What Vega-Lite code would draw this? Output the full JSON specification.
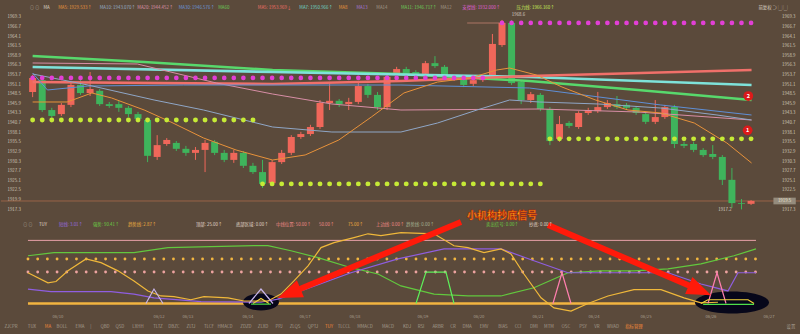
{
"$schema":"https://vega.github.io/schema/vega-lite/v6.json",
"background":"#5b4a3b",
"padding":0,
"spacing":0,
"bounds":"flush",
"config":{"view":{"stroke":null},"font":"Noto Sans CJK SC","axis":{"labelFont":"Noto Sans CJK SC"}},
"datasets":{
"candles":[
{"i":1,"o":1949.0,"h":1953.6,"l":1947.6,"c":1952.8,"res":1952.8,"sup":1941.4},
{"i":2,"o":1952.2,"h":1952.8,"l":1943.6,"c":1944.1,"res":1952.8,"sup":1941.4},
{"i":3,"o":1944.1,"h":1944.7,"l":1942.0,"c":1942.5,"res":1952.8,"sup":1941.4},
{"i":4,"o":1943.0,"h":1946.0,"l":1942.5,"c":1945.5,"res":1952.8,"sup":1941.4},
{"i":5,"o":1945.5,"h":1951.7,"l":1944.9,"c":1950.9,"res":1952.8,"sup":1941.4},
{"i":6,"o":1950.9,"h":1952.2,"l":1948.2,"c":1948.7,"res":1952.8,"sup":1941.4},
{"i":7,"o":1948.7,"h":1954.4,"l":1947.9,"c":1949.8,"res":1952.8,"sup":1941.4},
{"i":8,"o":1949.3,"h":1949.8,"l":1945.2,"c":1945.7,"res":1952.8,"sup":1941.4},
{"i":9,"o":1945.7,"h":1946.3,"l":1944.7,"c":1945.2,"res":1952.8,"sup":1941.4},
{"i":10,"o":1945.7,"h":1946.6,"l":1943.6,"c":1944.7,"res":1952.8,"sup":1941.4},
{"i":11,"o":1944.7,"h":1945.2,"l":1942.2,"c":1943.0,"res":1952.8,"sup":1941.4},
{"i":12,"o":1943.0,"h":1943.6,"l":1941.1,"c":1941.7,"res":1952.8,"sup":1941.4},
{"i":13,"o":1941.4,"h":1942.0,"l":1930.0,"c":1931.7,"res":1952.8,"sup":1941.4},
{"i":14,"o":1931.4,"h":1937.3,"l":1930.6,"c":1934.6,"res":1952.8,"sup":1941.4},
{"i":15,"o":1934.9,"h":1936.5,"l":1934.4,"c":1936.0,"res":1952.8,"sup":1941.4},
{"i":16,"o":1935.2,"h":1935.7,"l":1933.0,"c":1933.6,"res":1952.8,"sup":1941.4},
{"i":17,"o":1933.6,"h":1934.4,"l":1931.7,"c":1932.5,"res":1952.8,"sup":1941.4},
{"i":18,"o":1932.5,"h":1934.1,"l":1930.6,"c":1933.3,"res":1952.8,"sup":1941.4},
{"i":19,"o":1933.3,"h":1936.0,"l":1927.3,"c":1935.2,"res":1952.8,"sup":1941.4},
{"i":20,"o":1935.5,"h":1936.0,"l":1931.9,"c":1932.5,"res":1952.8,"sup":1941.4},
{"i":21,"o":1932.5,"h":1933.3,"l":1930.0,"c":1930.6,"res":1952.8,"sup":1941.4},
{"i":22,"o":1930.6,"h":1933.3,"l":1929.8,"c":1932.5,"res":1952.8,"sup":1941.4},
{"i":23,"o":1932.5,"h":1933.0,"l":1928.4,"c":1929.0,"res":1952.8,"sup":1941.4},
{"i":24,"o":1929.0,"h":1929.8,"l":1926.8,"c":1927.3,"res":1952.8,"sup":1941.4},
{"i":25,"o":1927.3,"h":1930.6,"l":1923.0,"c":1924.1,"res":1952.8,"sup":1924.1},
{"i":26,"o":1924.3,"h":1930.6,"l":1923.5,"c":1930.0,"res":1952.8,"sup":1924.1},
{"i":27,"o":1930.0,"h":1933.3,"l":1929.5,"c":1932.5,"res":1952.8,"sup":1924.1},
{"i":28,"o":1932.5,"h":1937.3,"l":1931.9,"c":1936.8,"res":1952.8,"sup":1924.1},
{"i":29,"o":1936.8,"h":1938.2,"l":1936.3,"c":1937.6,"res":1952.8,"sup":1924.1},
{"i":30,"o":1937.6,"h":1940.1,"l":1937.1,"c":1939.5,"res":1952.8,"sup":1924.1},
{"i":31,"o":1939.5,"h":1946.8,"l":1939.0,"c":1946.0,"res":1952.8,"sup":1924.1},
{"i":32,"o":1946.0,"h":1951.4,"l":1944.1,"c":1946.6,"res":1952.8,"sup":1924.1},
{"i":33,"o":1946.6,"h":1947.1,"l":1944.9,"c":1945.7,"res":1952.8,"sup":1924.1},
{"i":34,"o":1945.7,"h":1947.4,"l":1944.1,"c":1946.3,"res":1952.8,"sup":1924.1},
{"i":35,"o":1946.3,"h":1951.7,"l":1945.7,"c":1950.6,"res":1952.8,"sup":1924.1},
{"i":36,"o":1950.6,"h":1951.2,"l":1947.4,"c":1948.2,"res":1952.8,"sup":1924.1},
{"i":37,"o":1948.2,"h":1949.0,"l":1944.1,"c":1944.9,"res":1952.8,"sup":1924.1},
{"i":38,"o":1944.9,"h":1953.6,"l":1944.1,"c":1953.1,"res":1952.8,"sup":1924.1},
{"i":39,"o":1954.1,"h":1955.8,"l":1953.6,"c":1955.2,"res":1952.8,"sup":1924.1},
{"i":40,"o":1955.2,"h":1955.8,"l":1953.6,"c":1954.1,"res":1952.8,"sup":1924.1},
{"i":41,"o":1954.4,"h":1954.9,"l":1953.3,"c":1953.9,"res":1952.8,"sup":1924.1},
{"i":42,"o":1953.9,"h":1957.4,"l":1953.3,"c":1956.8,"res":1952.8,"sup":1924.1},
{"i":43,"o":1956.8,"h":1958.7,"l":1955.5,"c":1956.0,"res":1952.8,"sup":1924.1},
{"i":44,"o":1955.8,"h":1956.3,"l":1952.8,"c":1953.6,"res":1952.8,"sup":1924.1},
{"i":45,"o":1952.5,"h":1953.6,"l":1952.0,"c":1953.1,"res":1952.8,"sup":1924.1},
{"i":46,"o":1952.5,"h":1953.1,"l":1950.3,"c":1950.9,"res":1952.8,"sup":1924.1},
{"i":47,"o":1951.2,"h":1952.8,"l":1950.6,"c":1952.2,"res":1952.8,"sup":1924.1},
{"i":48,"o":1952.2,"h":1953.6,"l":1951.7,"c":1953.1,"res":1952.8,"sup":1924.1},
{"i":49,"o":1953.1,"h":1964.7,"l":1952.5,"c":1962.0,"res":null,"sup":1924.1},
{"i":50,"o":1961.7,"h":1968.5,"l":1961.2,"c":1967.7,"res":1967.7,"sup":1924.1},
{"i":51,"o":1967.7,"h":1968.5,"l":1950.9,"c":1951.4,"res":1967.7,"sup":1924.1},
{"i":52,"o":1951.7,"h":1952.2,"l":1945.7,"c":1946.8,"res":1967.7,"sup":1924.1},
{"i":53,"o":1946.8,"h":1949.0,"l":1946.0,"c":1948.4,"res":1967.7,"sup":1924.1},
{"i":54,"o":1948.2,"h":1948.7,"l":1943.8,"c":1944.4,"res":1967.7,"sup":1924.1},
{"i":55,"o":1944.4,"h":1944.9,"l":1934.6,"c":1935.7,"res":1967.7,"sup":1936.3},
{"i":56,"o":1936.3,"h":1942.5,"l":1935.5,"c":1940.3,"res":1967.7,"sup":1936.3},
{"i":57,"o":1940.6,"h":1941.1,"l":1939.2,"c":1939.8,"res":1967.7,"sup":1936.3},
{"i":58,"o":1939.5,"h":1943.8,"l":1939.0,"c":1943.3,"res":1967.7,"sup":1936.3},
{"i":59,"o":1943.3,"h":1944.7,"l":1942.8,"c":1944.1,"res":1967.7,"sup":1936.3},
{"i":60,"o":1943.8,"h":1949.0,"l":1943.3,"c":1944.9,"res":1967.7,"sup":1936.3},
{"i":61,"o":1944.9,"h":1946.8,"l":1944.4,"c":1946.0,"res":1967.7,"sup":1936.3},
{"i":62,"o":1945.7,"h":1947.9,"l":1944.4,"c":1944.9,"res":1967.7,"sup":1936.3},
{"i":63,"o":1945.5,"h":1946.0,"l":1944.1,"c":1944.7,"res":1967.7,"sup":1936.3},
{"i":64,"o":1944.7,"h":1945.2,"l":1942.8,"c":1943.3,"res":1967.7,"sup":1936.3},
{"i":65,"o":1943.0,"h":1943.6,"l":1940.3,"c":1940.9,"res":1967.7,"sup":1936.3},
{"i":66,"o":1940.9,"h":1946.8,"l":1940.3,"c":1942.2,"res":1967.7,"sup":1936.3},
{"i":67,"o":1942.2,"h":1945.5,"l":1941.7,"c":1944.9,"res":1967.7,"sup":1936.3},
{"i":68,"o":1944.9,"h":1945.5,"l":1933.8,"c":1934.9,"res":1967.7,"sup":1936.3},
{"i":69,"o":1934.9,"h":1935.5,"l":1933.8,"c":1934.4,"res":1967.7,"sup":1936.3},
{"i":70,"o":1934.9,"h":1935.5,"l":1932.7,"c":1933.3,"res":1967.7,"sup":1936.3},
{"i":71,"o":1933.3,"h":1933.8,"l":1931.4,"c":1931.9,"res":1967.7,"sup":1936.3},
{"i":72,"o":1932.2,"h":1934.6,"l":1930.8,"c":1931.4,"res":1967.7,"sup":1936.3},
{"i":73,"o":1931.4,"h":1931.9,"l":1923.8,"c":1925.2,"res":1967.7,"sup":1936.3},
{"i":74,"o":1925.2,"h":1928.4,"l":1917.6,"c":1918.9,"res":1967.7,"sup":1936.3},
{"i":75,"o":1918.9,"h":1920.0,"l":1917.2,"c":1918.7,"res":1967.7,"sup":1936.3},
{"i":76,"o":1918.7,"h":1919.7,"l":1918.4,"c":1919.5,"res":1967.7,"sup":1936.3}
],
"ma":[
{"m":"MA60","i":1,"v":1958.74},{"m":"MA60","i":12.65,"v":1957.11},{"m":"MA60","i":26.05,"v":1954.94},{"m":"MA60","i":39.45,"v":1953.86},{"m":"MA60","i":52.86,"v":1951.97},{"m":"MA60","i":64.2,"v":1949.53},{"m":"MA60","i":76.05,"v":1946.82},
{"m":"MA120","i":1,"v":1955.76},{"m":"MA120","i":26.05,"v":1954.4},{"m":"MA120","i":39.45,"v":1953.73},{"m":"MA120","i":52.86,"v":1953.05},{"m":"MA120","i":76.05,"v":1950.88},
{"m":"MA250","i":1,"v":1951.69},{"m":"MA250","i":26.05,"v":1951.15},{"m":"MA250","i":39.45,"v":1951.97},{"m":"MA250","i":52.86,"v":1953.32},{"m":"MA250","i":76.05,"v":1954.94},
{"m":"MA20","i":1,"v":1956.84},{"m":"MA20","i":11.93,"v":1956.57},{"m":"MA20","i":20.18,"v":1951.42},{"m":"MA20","i":26.05,"v":1948.44},{"m":"MA20","i":32.24,"v":1945.74},{"m":"MA20","i":39.45,"v":1944.11},{"m":"MA20","i":53.89,"v":1944.38},{"m":"MA20","i":64.2,"v":1943.57},{"m":"MA20","i":76.05,"v":1941.4},
{"m":"MA30","i":1,"v":1954.13},{"m":"MA30","i":2.55,"v":1949.53},{"m":"MA30","i":6.77,"v":1950.61},{"m":"MA30","i":16.77,"v":1950.88},{"m":"MA30","i":39.45,"v":1950.88},{"m":"MA30","i":52.86,"v":1950.07},{"m":"MA30","i":66.57,"v":1945.47},{"m":"MA30","i":76.05,"v":1942.76},
{"m":"MA10","i":1,"v":1953.86},{"m":"MA10","i":6.77,"v":1950.88},{"m":"MA10","i":13.68,"v":1946.82},{"m":"MA10","i":18.84,"v":1944.11},{"m":"MA10","i":26.05,"v":1939.51},{"m":"MA10","i":32.24,"v":1938.15},{"m":"MA10","i":39.45,"v":1938.15},{"m":"MA10","i":43.27,"v":1940.59},{"m":"MA10","i":47.39,"v":1944.11},{"m":"MA10","i":50.79,"v":1946.82},{"m":"MA10","i":53.89,"v":1946.28},{"m":"MA10","i":60.07,"v":1945.74},{"m":"MA10","i":66.57,"v":1944.65},{"m":"MA10","i":72.44,"v":1942.76},{"m":"MA10","i":76.05,"v":1941.4},
{"m":"MA5","i":1,"v":1946.28},{"m":"MA5","i":4.61,"v":1946.28},{"m":"MA5","i":7.19,"v":1948.72},{"m":"MA5","i":9.25,"v":1947.36},{"m":"MA5","i":12.65,"v":1944.11},{"m":"MA5","i":15.43,"v":1940.86},{"m":"MA5","i":18.84,"v":1936.53},{"m":"MA5","i":22.24,"v":1933.28},{"m":"MA5","i":26.05,"v":1930.57},{"m":"MA5","i":29.45,"v":1931.93},{"m":"MA5","i":32.96,"v":1935.99},{"m":"MA5","i":36.36,"v":1942.22},{"m":"MA5","i":39.76,"v":1948.72},{"m":"MA5","i":43.27,"v":1951.69},{"m":"MA5","i":46.67,"v":1952.78},{"m":"MA5","i":49.45,"v":1954.94},{"m":"MA5","i":50.79,"v":1955.48},{"m":"MA5","i":53.58,"v":1953.59},{"m":"MA5","i":56.26,"v":1950.34},{"m":"MA5","i":59.76,"v":1946.82},{"m":"MA5","i":63.16,"v":1944.11},{"m":"MA5","i":66.57,"v":1943.3},{"m":"MA5","i":70.07,"v":1940.59},{"m":"MA5","i":73.47,"v":1935.18},{"m":"MA5","i":76.05,"v":1929.76}
],
"badges":[{"n":"2","i":75.71,"v":1947.9},{"n":"1","i":75.64,"v":1938.6}],
"extremes":[{"t":"1968.6","i":51.72,"v":1969.84},{"t":"1917.2","i":73.27,"v":1917.1}],
"maxline":[{"i":46.36,"i2":49.76,"v":1967.67}],
"pricebox":[{"t":"1919.5","i":79.5,"v":1919.47}],
"legTop":[
{"t":"⊙ ⊙","i":0.69,"k":"grey"},
{"t":"MA","i":2.13,"k":"white"},
{"t":"MA5: 1929.533↑","i":3.68,"k":"orange"},
{"t":"MA10: 1943.070↑","i":8.01,"k":"greyblue"},
{"t":"MA20: 1944.452↑","i":11.93,"k":"pink"},
{"t":"MA30: 1946.576↑","i":16.26,"k":"blue"},
{"t":"MA60","i":20.38,"k":"green"},
{"t":"MA5: 1953.969↓","i":24.51,"k":"red"},
{"t":"MA7: 1950.966↑","i":28.84,"k":"teal"},
{"t":"MA8","i":32.96,"k":"orange"},
{"t":"MA13","i":34.81,"k":"purple"},
{"t":"MA14","i":36.88,"k":"grey"},
{"t":"MA11: 1946.717↑","i":39.45,"k":"green"},
{"t":"MA12","i":43.58,"k":"grey"},
{"t":"支撑线: 1932.000↑","i":45.85,"k":"magenta"},
{"t":"压力线: 1966.160↑","i":51.52,"k":"lime"},
{"t":"前复权  ⊃ ▢ ▢","i":76.77,"k":"white"}
],
"levels":[{"n":"top","v":100.5},{"n":"zero","v":0}],
"ind":[
{"s":"g","i":1,"v":76},{"s":"g","i":3.68,"v":81},{"s":"g","i":11.93,"v":81},{"s":"g","i":15.43,"v":89},{"s":"g","i":24.3,"v":92},{"s":"g","i":25.74,"v":92},{"s":"g","i":28.11,"v":84},{"s":"g","i":30.9,"v":73},{"s":"g","i":34.3,"v":57},{"s":"g","i":37.08,"v":47},{"s":"g","i":39.45,"v":28},{"s":"g","i":42.86,"v":15},{"s":"g","i":46.36,"v":12},{"s":"g","i":49.76,"v":12},{"s":"g","i":53.16,"v":25},{"s":"g","i":56.67,"v":49},{"s":"g","i":60.07,"v":52},{"s":"g","i":63.47,"v":52},{"s":"g","i":66.98,"v":55},{"s":"g","i":70.38,"v":63},{"s":"g","i":73.78,"v":76},{"s":"g","i":76.05,"v":87},
{"s":"p","i":1,"v":23},{"s":"p","i":3.37,"v":19},{"s":"p","i":9.56,"v":19},{"s":"p","i":11.93,"v":15},{"s":"p","i":13.99,"v":9},{"s":"p","i":18.84,"v":3},{"s":"p","i":25.02,"v":2},{"s":"p","i":26.77,"v":7},{"s":"p","i":29.14,"v":20},{"s":"p","i":34.3,"v":49},{"s":"p","i":39.14,"v":71},{"s":"p","i":43.89,"v":87},{"s":"p","i":49.76,"v":87},{"s":"p","i":53.16,"v":68},{"s":"p","i":56.67,"v":49},{"s":"p","i":66.98,"v":49},{"s":"p","i":70.38,"v":31},{"s":"p","i":73.16,"v":20},{"s":"p","i":74.19,"v":49},{"s":"p","i":76.05,"v":49},
{"s":"y","i":1,"v":49},{"s":"y","i":3.06,"v":33},{"s":"y","i":3.89,"v":35},{"s":"y","i":5.12,"v":52},{"s":"y","i":6.98,"v":71},{"s":"y","i":8.53,"v":65},{"s":"y","i":10.28,"v":52},{"s":"y","i":11.93,"v":36},{"s":"y","i":13.37,"v":20},{"s":"y","i":14.71,"v":12},{"s":"y","i":16.05,"v":11},{"s":"y","i":17.8,"v":6},{"s":"y","i":19.14,"v":11},{"s":"y","i":21.62,"v":9},{"s":"y","i":23.27,"v":4},{"s":"y","i":25.74,"v":4},{"s":"y","i":27.08,"v":15},{"s":"y","i":28.42,"v":36},{"s":"y","i":29.87,"v":60},{"s":"y","i":31.21,"v":89},{"s":"y","i":32.55,"v":97},{"s":"y","i":34.61,"v":105},{"s":"y","i":36.05,"v":111},{"s":"y","i":37.39,"v":108},{"s":"y","i":39.45,"v":113},{"s":"y","i":42.86,"v":111},{"s":"y","i":44.92,"v":92},{"s":"y","i":46.36,"v":89},{"s":"y","i":48.01,"v":81},{"s":"y","i":49.76,"v":87},{"s":"y","i":50.79,"v":79},{"s":"y","i":52.13,"v":47},{"s":"y","i":53.89,"v":9},{"s":"y","i":55.23,"v":-7},{"s":"y","i":56.98,"v":-12},{"s":"y","i":58.73,"v":0},{"s":"y","i":60.79,"v":12},{"s":"y","i":63.47,"v":22},{"s":"y","i":66.26,"v":22},{"s":"y","i":68.63,"v":9},{"s":"y","i":70.38,"v":1},{"s":"y","i":72.13,"v":2},
{"s":"tri1","i":13.16,"v":0},{"s":"tri1","i":13.99,"v":23},{"s":"tri1","i":14.92,"v":0},
{"s":"tri2","i":23.78,"v":0},{"s":"tri2","i":25.02,"v":23},{"s":"tri2","i":26.26,"v":0},
{"s":"pk1","i":55.12,"v":0},{"s":"pk1","i":56.05,"v":49},{"s":"pk1","i":56.98,"v":0},
{"s":"pk2","i":71.1,"v":0},{"s":"pk2","i":72.03,"v":49},{"s":"pk2","i":72.96,"v":0},
{"s":"gtrap","i":41.0,"v":0},{"s":"gtrap","i":42.03,"v":50},{"s":"gtrap","i":44.09,"v":50},{"s":"gtrap","i":44.92,"v":0},
{"s":"ytri","i":24.2,"v":0},{"s":"ytri","i":25.02,"v":8},{"s":"ytri","i":25.85,"v":0},
{"s":"ytrap","i":70.38,"v":0},{"s":"ytrap","i":71.1,"v":6},{"s":"ytrap","i":75.23,"v":6},{"s":"ytrap","i":75.85,"v":0},
{"s":"gb1","i":24.0,"v":-1},{"s":"gb1","i":26.05,"v":-1},
{"s":"gb2","i":70.6,"v":-1.5},{"s":"gb2","i":75.85,"v":-1.5}
],
"ellipses":[{"n":"e1","i":25.02,"v":2.4},{"n":"e2","i":73.58,"v":1.6}],
"arrows":[{"a":"a1","i":45.64,"v":129.78},{"a":"a1","i":27.92,"v":16.08},{"a":"a2","i":54.61,"v":125.0},{"a":"a2","i":70.28,"v":21.02}],
"heads":[{"a":"a1","i":27.92,"v":16.08},{"a":"a2","i":70.28,"v":21.02}],
"notes":[{"t":"小机构抄底信号","i":49.87,"v":139.3}],
"legBot":[
{"t":"⊙ ⊙","i":0.48,"k":"grey"},
{"t":"TUY","i":2.13,"k":"white"},
{"t":"短线: 3.01↑","i":4.2,"k":"purple"},
{"t":"强势: 90.41↑","i":7.7,"k":"green"},
{"t":"趋势线: 2.87↑","i":11.31,"k":"orange"},
{"t":"顶部: 25.00↑","i":18.32,"k":"white"},
{"t":"底部区域: 0.00↑","i":22.44,"k":"white"},
{"t":"中线位置: 50.00↑","i":26.57,"k":"pink"},
{"t":"50.00↑","i":31.0,"k":"pink"},
{"t":"75.00↑","i":33.99,"k":"orange"},
{"t":"上边线: 0.00↑","i":36.88,"k":"pink"},
{"t":"趋势线: 0.00↑","i":39.97,"k":"greygreen"},
{"t":"卖出信号: 0.00↑","i":48.22,"k":"green"},
{"t":"抄底: 0.00↑","i":52.65,"k":"white"}
],
"dates":[
{"t":"06/10","i":4.09},{"t":"06/12","i":14.51},{"t":"06/13","i":17.49},{"t":"06/14","i":23.68},{"t":"06/17","i":29.56},{"t":"06/18","i":34.71},{"t":"06/19","i":41.72},{"t":"06/20","i":47.49},{"t":"06/21","i":53.58},{"t":"06/24","i":59.35},{"t":"06/25","i":64.71},{"t":"06/26","i":71.41},{"t":"06/27","i":77.39}
],
"tabs":[
{"t":"ZJCPR","i":-0.75,"k":"grey"},{"t":"TUX","i":1.41,"k":"grey"},{"t":"MA","i":3.06,"k":"orange"},{"t":"BOLL","i":4.51,"k":"grey"},{"t":"EMA","i":6.36,"k":"grey"},{"t":"|","i":7.49,"k":"grey"},{"t":"QBD","i":8.94,"k":"grey"},{"t":"QSD","i":10.48,"k":"grey"},{"t":"LXHH","i":12.34,"k":"grey"},{"t":"TLTZ","i":14.4,"k":"grey"},{"t":"DBZC","i":16.05,"k":"grey"},{"t":"ZLTJ","i":17.8,"k":"grey"},{"t":"TLCF","i":19.66,"k":"grey"},{"t":"HMACD","i":21.31,"k":"grey"},{"t":"ZDZD","i":23.47,"k":"grey"},{"t":"ZLXD","i":25.23,"k":"grey"},{"t":"PPJ","i":26.88,"k":"grey"},{"t":"ZLQS","i":28.53,"k":"grey"},{"t":"QPTJ","i":30.38,"k":"grey"},{"t":"TUY","i":32.03,"k":"orange"},{"t":"TLCCL","i":33.58,"k":"grey"},{"t":"MMACD","i":35.74,"k":"grey"},{"t":"MACD","i":38.11,"k":"grey"},{"t":"KDJ","i":40.07,"k":"grey"},{"t":"RSI","i":41.52,"k":"grey"},{"t":"ARBR","i":43.27,"k":"grey"},{"t":"CR","i":44.81,"k":"grey"},{"t":"DMA","i":46.26,"k":"grey"},{"t":"EMV","i":48.01,"k":"grey"},{"t":"BIAS","i":49.97,"k":"grey"},{"t":"CCI","i":51.52,"k":"grey"},{"t":"DMI","i":53.16,"k":"grey"},{"t":"MTM","i":54.71,"k":"grey"},{"t":"OSC","i":56.46,"k":"grey"},{"t":"PSY","i":58.22,"k":"grey"},{"t":"VR","i":59.66,"k":"grey"},{"t":"WVAD","i":61.31,"k":"grey"},{"t":"指标管理","i":63.47,"k":"orange"},{"t":"设置","i":79.66,"k":"grey"}
]
},
"vconcat":[
{
"width":800,"height":212,
"resolve":{"axis":{"y":"independent"},"scale":{"color":"independent"}},
"layer":[
{"data":{"name":"pricebox"},"mark":{"type":"rule","color":"#a86a4a","strokeWidth":0.8},
 "encoding":{"y":{"field":"v","type":"quantitative","scale":{"domain":[1916.49,1973.9],"nice":false,"zero":false},"axis":null}}},
{"data":{"name":"candles"},"mark":{"type":"rule","strokeWidth":1},
 "encoding":{
  "x":{"field":"i","type":"quantitative","scale":{"domain":[-1.78,80.69],"nice":false,"zero":false},"axis":null},
  "y":{"field":"l","type":"quantitative","scale":{"domain":[1916.49,1973.9],"nice":false,"zero":false},
       "axis":{"orient":"right","values":[1969.3,1966.7,1964.1,1961.5,1958.9,1956.3,1953.7,1951.1,1948.5,1945.9,1943.3,1940.7,1938.1,1935.5,1932.9,1930.3,1927.7,1925.1,1922.5,1917.3],"format":".1f","labelAlign":"right","labelPadding":-6,"domain":false,"ticks":false,"grid":false,"title":null,"labelFontSize":4.4,"labelColor":"#cfc6b8","labelOverlap":false,"labelBound":false}},
  "y2":{"field":"h"},
  "color":{"condition":{"test":"datum.c >= datum.o","value":"#f0675a"},"value":"#3fb45c"}}},
{"data":{"name":"candles"},"mark":{"type":"bar","size":7},
 "encoding":{
  "x":{"field":"i","type":"quantitative","scale":{"domain":[-1.78,80.69],"nice":false,"zero":false},"axis":null},
  "y":{"field":"o","type":"quantitative","scale":{"domain":[1916.49,1973.9],"nice":false,"zero":false},
       "axis":{"orient":"left","values":[1969.3,1966.7,1964.1,1961.5,1958.9,1956.3,1953.7,1951.1,1948.5,1945.9,1943.3,1940.7,1938.1,1935.5,1932.9,1930.3,1927.7,1925.1,1922.5,1919.9,1917.3],"format":".1f","labelAlign":"left","labelPadding":-6,"domain":false,"ticks":false,"grid":false,"title":null,"labelFontSize":4.4,"labelColor":"#cfc6b8","labelOverlap":false,"labelBound":false}},
  "y2":{"field":"c"},
  "color":{"condition":{"test":"datum.c >= datum.o","value":"#f0675a"},"value":"#3fb45c"}}},
{"data":{"name":"ma"},"transform":[{"filter":{"field":"m","oneOf":["MA60","MA120","MA250"]}}],
 "mark":{"type":"line","strokeWidth":2.6},
 "encoding":{
  "x":{"field":"i","type":"quantitative","scale":{"domain":[-1.78,80.69],"nice":false,"zero":false},"axis":null},
  "y":{"field":"v","type":"quantitative","scale":{"domain":[1916.49,1973.9],"nice":false,"zero":false},"axis":null},
  "color":{"field":"m","type":"nominal","scale":{"domain":["MA60","MA120","MA250"],"range":["#58d86c","#7ee2da","#f0706a"]},"legend":null}}},
{"data":{"name":"ma"},"transform":[{"filter":{"field":"m","oneOf":["MA20","MA30","MA10","MA5"]}}],
 "mark":{"type":"line","strokeWidth":1},
 "encoding":{
  "x":{"field":"i","type":"quantitative","scale":{"domain":[-1.78,80.69],"nice":false,"zero":false},"axis":null},
  "y":{"field":"v","type":"quantitative","scale":{"domain":[1916.49,1973.9],"nice":false,"zero":false},"axis":null},
  "color":{"field":"m","type":"nominal","scale":{"domain":["MA20","MA30","MA10","MA5"],"range":["#d88ea6","#5f8fd6","#8fa6c6","#e8923a"]},"legend":null}}},
{"data":{"name":"maxline"},"mark":{"type":"rule","color":"#c08070","strokeWidth":0.8},
 "encoding":{
  "x":{"field":"i","type":"quantitative","scale":{"domain":[-1.78,80.69],"nice":false,"zero":false},"axis":null},
  "x2":{"field":"i2"},
  "y":{"field":"v","type":"quantitative","scale":{"domain":[1916.49,1973.9],"nice":false,"zero":false},"axis":null}}},
{"data":{"name":"candles"},"mark":{"type":"point","filled":true,"size":22,"color":"#e23fd6","opacity":1},
 "encoding":{
  "x":{"field":"i","type":"quantitative","scale":{"domain":[-1.78,80.69],"nice":false,"zero":false},"axis":null},
  "y":{"field":"res","type":"quantitative","scale":{"domain":[1916.49,1973.9],"nice":false,"zero":false},"axis":null}}},
{"data":{"name":"candles"},"mark":{"type":"point","filled":true,"size":24,"color":"#c6ea36","opacity":1},
 "encoding":{
  "x":{"field":"i","type":"quantitative","scale":{"domain":[-1.78,80.69],"nice":false,"zero":false},"axis":null},
  "y":{"field":"sup","type":"quantitative","scale":{"domain":[1916.49,1973.9],"nice":false,"zero":false},"axis":null}}},
{"data":{"name":"badges"},"mark":{"type":"point","filled":true,"size":95,"color":"#dc1a1a","opacity":1},
 "encoding":{
  "x":{"field":"i","type":"quantitative","scale":{"domain":[-1.78,80.69],"nice":false,"zero":false},"axis":null},
  "y":{"field":"v","type":"quantitative","scale":{"domain":[1916.49,1973.9],"nice":false,"zero":false},"axis":null}}},
{"data":{"name":"badges"},"mark":{"type":"text","color":"#ffffff","fontSize":5.5,"fontWeight":"bold","baseline":"middle","align":"center"},
 "encoding":{
  "x":{"field":"i","type":"quantitative","scale":{"domain":[-1.78,80.69],"nice":false,"zero":false},"axis":null},
  "y":{"field":"v","type":"quantitative","scale":{"domain":[1916.49,1973.9],"nice":false,"zero":false},"axis":null},
  "text":{"field":"n"}}},
{"data":{"name":"extremes"},"mark":{"type":"text","color":"#d8d0c4","fontSize":4.4,"baseline":"middle","align":"center"},
 "encoding":{
  "x":{"field":"i","type":"quantitative","scale":{"domain":[-1.78,80.69],"nice":false,"zero":false},"axis":null},
  "y":{"field":"v","type":"quantitative","scale":{"domain":[1916.49,1973.9],"nice":false,"zero":false},"axis":null},
  "text":{"field":"t"}}},
{"data":{"name":"pricebox"},"mark":{"type":"point","filled":true,"size":500,"shape":"M -1 -0.3 L 1 -0.3 L 1 0.3 L -1 0.3 Z","color":"#958c7d","opacity":1},
 "encoding":{
  "x":{"field":"i","type":"quantitative","scale":{"domain":[-1.78,80.69],"nice":false,"zero":false},"axis":null},
  "y":{"field":"v","type":"quantitative","scale":{"domain":[1916.49,1973.9],"nice":false,"zero":false},"axis":null}}},
{"data":{"name":"pricebox"},"mark":{"type":"text","color":"#ece4d4","fontSize":4.4,"baseline":"middle","align":"center"},
 "encoding":{
  "x":{"field":"i","type":"quantitative","scale":{"domain":[-1.78,80.69],"nice":false,"zero":false},"axis":null},
  "y":{"field":"v","type":"quantitative","scale":{"domain":[1916.49,1973.9],"nice":false,"zero":false},"axis":null},
  "text":{"field":"t"}}},
{"data":{"name":"legTop"},"mark":{"type":"text","fontSize":4.4,"baseline":"middle","align":"left"},
 "encoding":{
  "x":{"field":"i","type":"quantitative","scale":{"domain":[-1.78,80.69],"nice":false,"zero":false},"axis":null},
  "y":{"datum":1971.74,"type":"quantitative","scale":{"domain":[1916.49,1973.9],"nice":false,"zero":false},"axis":null},
  "text":{"field":"t"},
  "color":{"field":"k","type":"nominal","scale":{"domain":["grey","white","orange","greyblue","pink","blue","green","red","teal","purple","magenta","lime"],"range":["#a09888","#ddd5c8","#e8963c","#98aec8","#dc94ac","#6c98dc","#6ccc58","#f07068","#70d8c8","#a478d8","#e060d8","#c8ee5a"]},"legend":null}}}
]
},
{
"width":800,"height":122,
"resolve":{"scale":{"color":"independent"}},
"layer":[
{"data":{"name":"levels"},"transform":[{"filter":"datum.n == 'top'"}],"mark":{"type":"rule","color":"#e8a0a8","strokeWidth":1},
 "encoding":{
  "x":{"datum":1,"type":"quantitative","scale":{"domain":[-1.78,80.69],"nice":false,"zero":false},"axis":null},
  "x2":{"datum":76.05},
  "y":{"field":"v","type":"quantitative","scale":{"domain":[-48.57,145.7],"nice":false,"zero":false},
       "axis":{"orient":"left","values":[-10,5.13,20.25,35.38,50.5,65.63,80.75,95.88,111],"format":".2f","labelAlign":"left","labelPadding":-7,"domain":false,"ticks":false,"grid":false,"title":null,"labelFontSize":4.4,"labelColor":"#cfc6b8","labelOverlap":false,"labelBound":false}}}},
{"data":{"name":"levels"},"transform":[{"filter":"datum.n == 'zero'"}],"mark":{"type":"rule","color":"#f2b440","strokeWidth":2.6},
 "encoding":{
  "x":{"datum":1,"type":"quantitative","scale":{"domain":[-1.78,80.69],"nice":false,"zero":false},"axis":null},
  "x2":{"datum":76.05},
  "y":{"field":"v","type":"quantitative","scale":{"domain":[-48.57,145.7],"nice":false,"zero":false},"axis":null}}},
{"data":{"name":"candles"},"mark":{"type":"point","filled":true,"size":8,"color":"#f2b640","opacity":1},
 "encoding":{
  "x":{"field":"i","type":"quantitative","scale":{"domain":[-1.78,80.69],"nice":false,"zero":false},"axis":null},
  "y":{"datum":70.9,"type":"quantitative","scale":{"domain":[-48.57,145.7],"nice":false,"zero":false},"axis":null}}},
{"data":{"name":"candles"},"mark":{"type":"point","filled":true,"size":8,"color":"#eea3a0","opacity":1},
 "encoding":{
  "x":{"field":"i","type":"quantitative","scale":{"domain":[-1.78,80.69],"nice":false,"zero":false},"axis":null},
  "y":{"datum":50.2,"type":"quantitative","scale":{"domain":[-48.57,145.7],"nice":false,"zero":false},"axis":null}}},
{"data":{"name":"ellipses"},"transform":[{"filter":"datum.n == 'e1'"}],"mark":{"type":"point","filled":true,"size":1296,"shape":"M -1 0 A 1 0.47 0 1 0 1 0 A 1 0.47 0 1 0 -1 0 Z","color":"#07071a","opacity":1},
 "encoding":{
  "x":{"field":"i","type":"quantitative","scale":{"domain":[-1.78,80.69],"nice":false,"zero":false},"axis":null},
  "y":{"field":"v","type":"quantitative","scale":{"domain":[-48.57,145.7],"nice":false,"zero":false},"axis":null}}},
{"data":{"name":"ellipses"},"transform":[{"filter":"datum.n == 'e2'"}],"mark":{"type":"point","filled":true,"size":5476,"shape":"M -1 0 A 1 0.3 0 1 0 1 0 A 1 0.3 0 1 0 -1 0 Z","color":"#07071a","opacity":1},
 "encoding":{
  "x":{"field":"i","type":"quantitative","scale":{"domain":[-1.78,80.69],"nice":false,"zero":false},"axis":null},
  "y":{"field":"v","type":"quantitative","scale":{"domain":[-48.57,145.7],"nice":false,"zero":false},"axis":null}}},
{"data":{"name":"ind"},"mark":{"type":"line","strokeWidth":1.2},
 "encoding":{
  "x":{"field":"i","type":"quantitative","scale":{"domain":[-1.78,80.69],"nice":false,"zero":false},"axis":null},
  "y":{"field":"v","type":"quantitative","scale":{"domain":[-48.57,145.7],"nice":false,"zero":false},"axis":null},
  "color":{"field":"s","type":"nominal","scale":{"domain":["g","p","y","tri1","tri2","pk1","pk2","gtrap","ytri","ytrap","gb1","gb2"],"range":["#62c83e","#8f5ee0","#f0b83a","#c9b6ea","#c9b6ea","#ff7fae","#ff7fae","#5ef05a","#f4d23a","#f4d23a","#4ee04a","#4ee04a"]},"legend":null}}},
{"data":{"name":"arrows"},"mark":{"type":"line","strokeWidth":6,"color":"#ff1a0a","strokeCap":"butt"},
 "encoding":{
  "x":{"field":"i","type":"quantitative","scale":{"domain":[-1.78,80.69],"nice":false,"zero":false},"axis":null},
  "y":{"field":"v","type":"quantitative","scale":{"domain":[-48.57,145.7],"nice":false,"zero":false},"axis":null},
  "detail":{"field":"a"},
  "order":{"field":"v","sort":"descending"}}},
{"data":{"name":"heads"},"transform":[{"filter":"datum.a == 'a1'"}],"mark":{"type":"point","filled":true,"size":600,"shape":"M 0 -1 L 0.75 1 L -0.75 1 Z","angle":247.5,"color":"#ff1a0a","opacity":1},
 "encoding":{
  "x":{"field":"i","type":"quantitative","scale":{"domain":[-1.78,80.69],"nice":false,"zero":false},"axis":null},
  "y":{"field":"v","type":"quantitative","scale":{"domain":[-48.57,145.7],"nice":false,"zero":false},"axis":null}}},
{"data":{"name":"heads"},"transform":[{"filter":"datum.a == 'a2'"}],"mark":{"type":"point","filled":true,"size":600,"shape":"M 0 -1 L 0.75 1 L -0.75 1 Z","angle":113.3,"color":"#ff1a0a","opacity":1},
 "encoding":{
  "x":{"field":"i","type":"quantitative","scale":{"domain":[-1.78,80.69],"nice":false,"zero":false},"axis":null},
  "y":{"field":"v","type":"quantitative","scale":{"domain":[-48.57,145.7],"nice":false,"zero":false},"axis":null}}},
{"data":{"name":"notes"},"mark":{"type":"text","fontSize":10,"fontWeight":"bold","color":"#ffae1a","stroke":"#c01800","strokeWidth":0.5,"baseline":"middle","align":"center"},
 "encoding":{
  "x":{"field":"i","type":"quantitative","scale":{"domain":[-1.78,80.69],"nice":false,"zero":false},"axis":null},
  "y":{"field":"v","type":"quantitative","scale":{"domain":[-48.57,145.7],"nice":false,"zero":false},"axis":null},
  "text":{"field":"t"}}},
{"data":{"name":"legBot"},"mark":{"type":"text","fontSize":4.4,"baseline":"middle","align":"left"},
 "encoding":{
  "x":{"field":"i","type":"quantitative","scale":{"domain":[-1.78,80.69],"nice":false,"zero":false},"axis":null},
  "y":{"datum":125.6,"type":"quantitative","scale":{"domain":[-48.57,145.7],"nice":false,"zero":false},"axis":null},
  "text":{"field":"t"},
  "color":{"field":"k","type":"nominal","scale":{"domain":["grey","white","purple","green","orange","pink","greygreen"],"range":["#a09888","#e0d8cc","#9a6ae0","#6acc44","#f0b040","#f08a8a","#a8b898"]},"legend":null}}},
{"data":{"name":"dates"},"mark":{"type":"text","fontSize":4.2,"baseline":"middle","align":"center","color":"#a89f90"},
 "encoding":{
  "x":{"field":"i","type":"quantitative","scale":{"domain":[-1.78,80.69],"nice":false,"zero":false},"axis":null},
  "y":{"datum":-21.5,"type":"quantitative","scale":{"domain":[-48.57,145.7],"nice":false,"zero":false},"axis":null},
  "text":{"field":"t"}}},
{"data":{"name":"tabs"},"mark":{"type":"text","fontSize":4.4,"baseline":"middle","align":"center"},
 "encoding":{
  "x":{"field":"i","type":"quantitative","scale":{"domain":[-1.78,80.69],"nice":false,"zero":false},"axis":null},
  "y":{"datum":-37.4,"type":"quantitative","scale":{"domain":[-48.57,145.7],"nice":false,"zero":false},"axis":null},
  "text":{"field":"t"},
  "color":{"field":"k","type":"nominal","scale":{"domain":["grey","orange"],"range":["#a49c8e","#f0883a"]},"legend":null}}}
]
}
]
}
